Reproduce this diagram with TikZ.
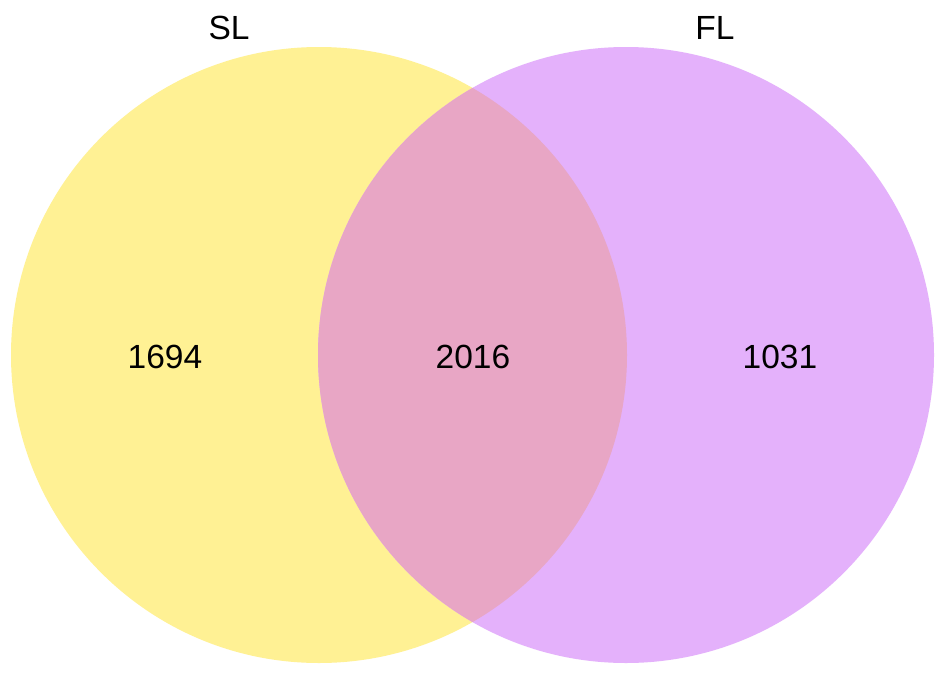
\documentclass[tikz,border=0pt]{standalone}
\usepackage{fontspec}
\setmainfont{Liberation Sans}
\definecolor{slyellow}{HTML}{FFF194}
\definecolor{flpurple}{HTML}{E4B1FB}
\definecolor{overlap}{HTML}{E8A6C5}
\begin{document}
\begin{tikzpicture}[x=1pt,y=-1pt,
  setcircle/.style={circle,inner sep=0pt,minimum size=616pt,draw=none},
  countlabel/.style={inner sep=0pt,font=\fontsize{33.5}{36}\selectfont},
  setlabel/.style={inner sep=0pt,font=\fontsize{33.5}{36}\selectfont}]
\useasboundingbox[fill=white] (0,0) rectangle (945,672);
\node[setcircle,fill=slyellow] (SLc) at (319,355) {};
\node[setcircle,fill=flpurple] (FLc) at (626,355) {};
\begin{scope}
  \clip (SLc.center) circle (308pt);
  \fill[overlap] (FLc.center) circle (308pt);
\end{scope}
\node[setlabel] (SL) at (229,28) {SL};
\node[setlabel] (FL) at (715,28) {FL};
\node[countlabel] (n1) at (165,357) {1694};
\node[countlabel] (n2) at (473,357) {2016};
\node[countlabel] (n3) at (780,357) {1031};
\end{tikzpicture}
\end{document}
